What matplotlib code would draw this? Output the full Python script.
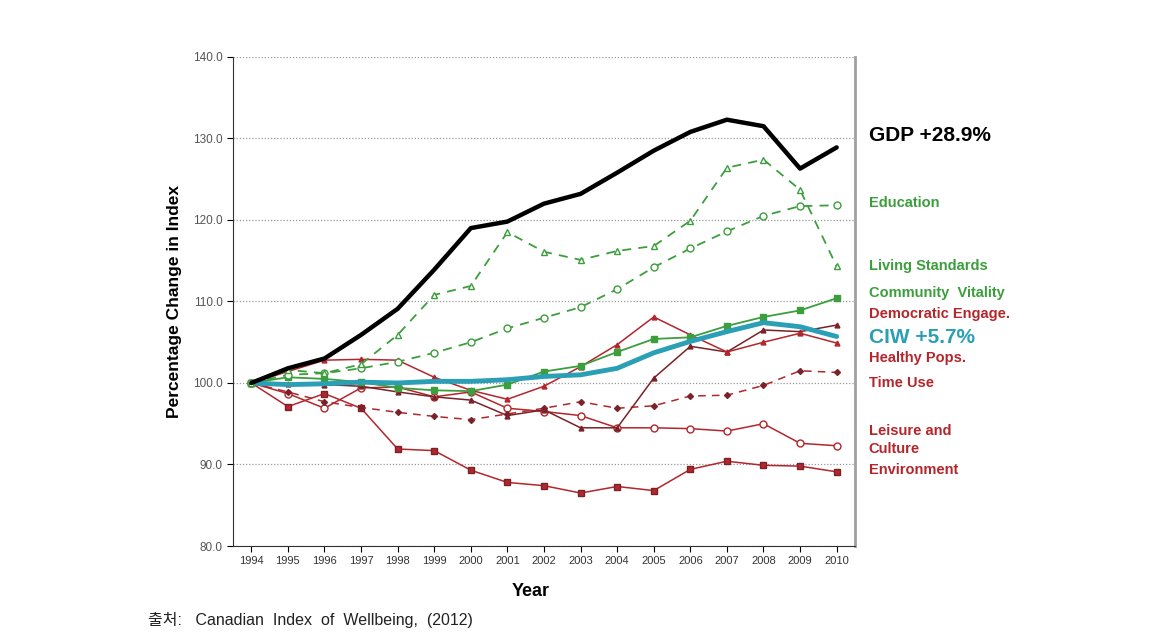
import matplotlib
matplotlib.use('Agg')
from matplotlib import pyplot as plt

years = list(range(1994, 2011))

gdp = [100, 101.8, 103.0, 105.9, 109.1, 113.9, 119.0, 119.8, 122.0, 123.2, 125.8, 128.5, 130.8, 132.3, 131.5, 126.3, 128.9]
education = [100, 101.0, 101.2, 101.8, 102.6, 103.7, 105.0, 106.7, 108.0, 109.3, 111.5, 114.2, 116.5, 118.6, 120.5, 121.7, 121.8]
living_standards = [100, 101.6, 101.2, 102.3, 105.9, 110.8, 111.9, 118.5, 116.1, 115.1, 116.2, 116.8, 119.9, 126.4, 127.4, 123.7, 114.3]
community_vitality = [100, 100.7, 100.5, 100.1, 99.4, 99.1, 99.0, 99.8, 101.4, 102.1, 103.8, 105.4, 105.6, 107.0, 108.1, 108.9, 110.4]
ciw = [100, 99.8, 99.9, 100.1, 100.0, 100.2, 100.2, 100.4, 100.8, 101.0, 101.8, 103.7, 105.1, 106.3, 107.4, 106.9, 105.7]
democratic = [100, 99.9, 99.8, 99.6, 98.9, 98.3, 97.9, 96.0, 96.7, 94.5, 94.5, 100.6, 104.5, 103.8, 106.5, 106.3, 107.1]
healthy = [100, 101.4, 102.8, 102.9, 102.8, 100.7, 99.1, 98.0, 99.6, 102.0, 104.7, 108.1, 105.9, 103.8, 105.0, 106.1, 104.9]
time_use = [100, 98.9, 97.7, 97.0, 96.4, 95.9, 95.5, 96.2, 96.9, 97.7, 96.9, 97.2, 98.4, 98.5, 99.7, 101.5, 101.3]
leisure = [100, 98.7, 96.9, 99.4, 99.5, 98.3, 98.9, 96.9, 96.5, 96.0, 94.5, 94.5, 94.4, 94.1, 95.0, 92.6, 92.3]
environment = [100, 97.1, 98.7, 96.9, 91.9, 91.7, 89.3, 87.8, 87.4, 86.5, 87.3, 86.8, 89.4, 90.4, 89.9, 89.8, 89.1]

green = '#3c9e3c'
red = '#b3262c'
maroon = '#7a2228'
teal = '#2a9fb5'

plt.rcParams['font.family'] = ['Liberation Sans', 'Noto Sans CJK KR', 'DejaVu Sans']

fig = plt.figure(figsize=(11.61, 6.36), dpi=100)
ax = fig.add_axes([0.2007, 0.1415, 0.5357, 0.769])

ax.plot(years, environment, color=red, lw=1.1, marker='s', ms=4.5, mfc=red, mec=maroon)
ax.plot(years, leisure, color=red, lw=1.1, marker='o', ms=5, mfc='white', mec=red)
ax.plot(years, time_use, color=red, lw=1.1, ls=(0, (5, 4)), marker='D', ms=3, mfc=maroon, mec=maroon)
ax.plot(years, democratic, color=maroon, lw=1.1, marker='^', ms=3.5, mfc=maroon, mec=maroon)
ax.plot(years, healthy, color=red, lw=1.1, marker='^', ms=3.5, mfc=red, mec=red)
ax.plot(years, community_vitality, color=green, lw=1.3, marker='s', ms=4.5, mfc=green, mec=green)
ax.plot(years, ciw, color=teal, lw=3.5, solid_capstyle='round')
ax.plot(years, education, color=green, lw=1.3, ls=(0, (5, 4)), marker='o', ms=5, mfc='white', mec=green)
ax.plot(years, living_standards, color=green, lw=1.3, ls=(0, (5, 4)), marker='^', ms=5, mfc='white', mec=green)
ax.plot(years, gdp, color='black', lw=3.2, solid_capstyle='round')

ax.set_xlim(1993.5, 2010.5)
ax.set_ylim(80, 140)
ax.set_xticks(years)
ax.set_xticklabels([str(y) for y in years], fontsize=8, color='#333333')
ax.set_yticks(range(80, 141, 10))
ax.set_yticklabels(['%.1f' % v for v in range(80, 141, 10)], fontsize=8.5, color='#555555')
ax.tick_params(axis='both', length=4, width=0.8, direction='out')
ax.grid(axis='y', color='#999999', ls=(0, (1, 1.5)), lw=0.9)
ax.set_axisbelow(True)

ax.spines['top'].set_visible(False)
ax.spines['right'].set_color('#a0a0a0')
ax.spines['right'].set_linewidth(2)
ax.spines['left'].set_color('#333333')
ax.spines['bottom'].set_color('#333333')

ax.set_ylabel('Percentage Change in Index', fontsize=12.5, fontweight='bold', labelpad=8)
fig.text(531 / 1161, 1 - 592 / 636, 'Year', fontsize=13, fontweight='bold', ha='center', va='center')

lx = 2010.88
lab = dict(fontsize=10.5, fontweight='bold', va='center', clip_on=False)
ax.text(lx, 130.4, 'GDP +28.9%', fontsize=15, fontweight='bold', color='black', va='center', clip_on=False)
ax.text(lx, 122.1, 'Education', color=green, **lab)
ax.text(lx, 114.4, 'Living Standards', color=green, **lab)
ax.text(lx, 111.0, 'Community  Vitality', color=green, **lab)
ax.text(lx, 108.5, 'Democratic Engage.', color=red, **lab)
ax.text(lx, 105.6, 'CIW +5.7%', fontsize=15, fontweight='bold', color=teal, va='center', clip_on=False)
ax.text(lx, 103.1, 'Healthy Pops.', color=red, **lab)
ax.text(lx, 100.0, 'Time Use', color=red, **lab)
ax.text(lx, 93.0, 'Leisure and\nCulture', color=red, linespacing=1.3, **lab)
ax.text(lx, 89.3, 'Environment', color=red, **lab)

fig.text(148 / 1161, 1 - 620 / 636, '출처:   Canadian  Index  of  Wellbeing,  (2012)', fontsize=11.5,
         color='#222222', va='center')

fig.savefig('out.png', dpi=100)
